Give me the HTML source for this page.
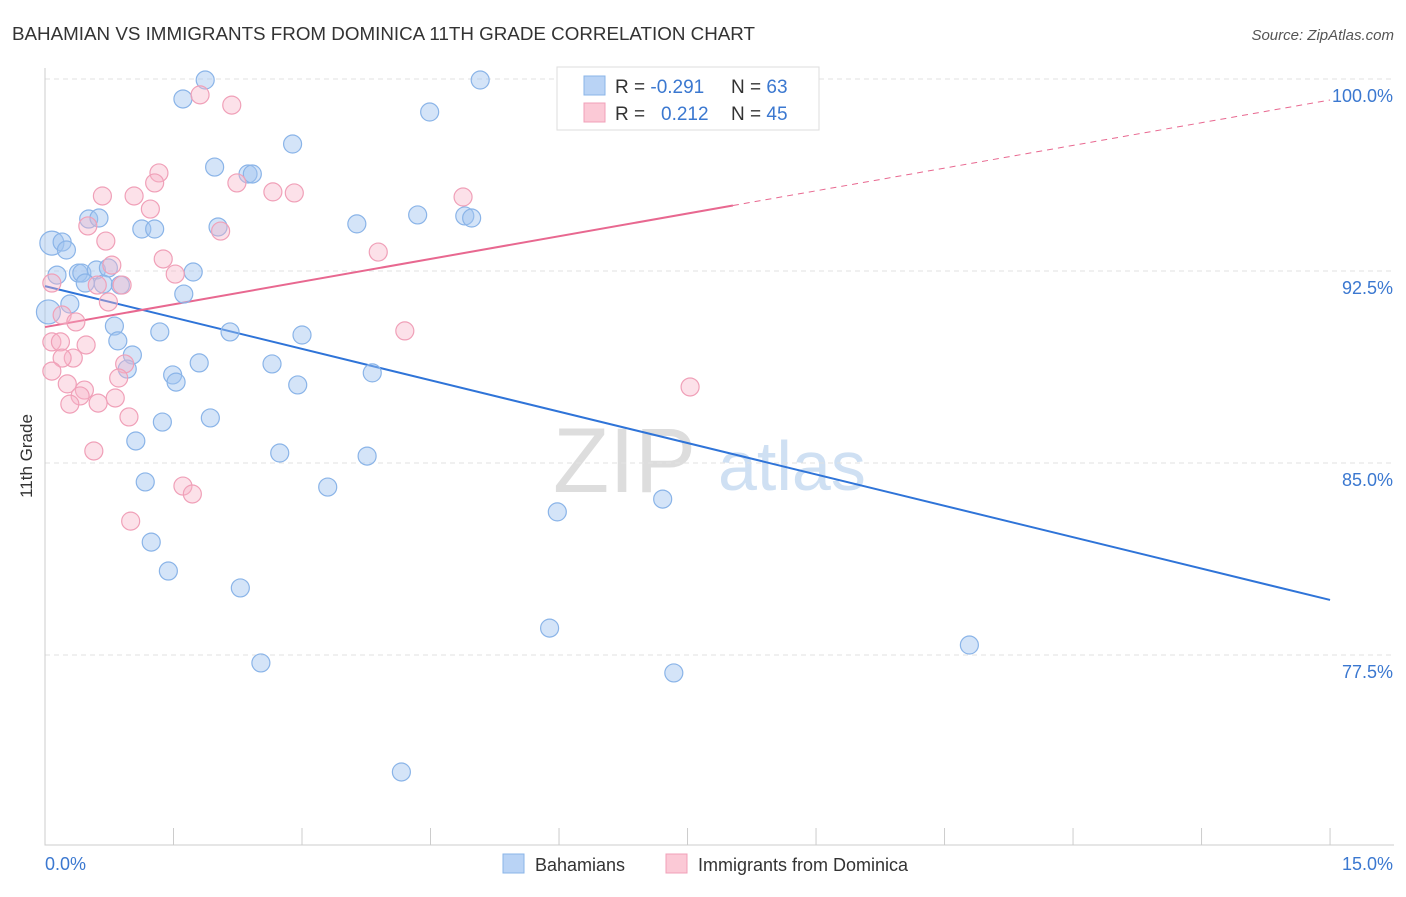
<!DOCTYPE html>
<html><head><meta charset="utf-8"><style>
body{margin:0;background:#fff;font-family:"Liberation Sans",sans-serif;}
svg text{font-family:"Liberation Sans",sans-serif;}
</style></head><body>
<svg id="chart" width="1406" height="892" viewBox="0 0 1406 892" xmlns="http://www.w3.org/2000/svg">
<text x="12" y="40" font-size="18.8" fill="#333">BAHAMIAN VS IMMIGRANTS FROM DOMINICA 11TH GRADE CORRELATION CHART</text>
<text x="1394" y="40" font-size="15" fill="#555" font-style="italic" text-anchor="end">Source: ZipAtlas.com</text>
<text x="32" y="456" font-size="17" fill="#333" text-anchor="middle" transform="rotate(-90 32 456)">11th Grade</text>
<g>
<text x="553" y="492" font-size="92" fill="#ddd" font-family="Liberation Serif,serif">ZIP</text>
<text x="718" y="490" font-size="70" fill="#cfe0f3">atlas</text>
</g>
<g id="grid"></g><g id="axes"></g><g id="trend"></g><g id="pts"></g>
<g>
<rect x="557" y="67" width="262" height="63" fill="#fff" stroke="#ddd"/>
<rect x="584" y="76" width="21" height="19" fill="#b9d3f5" stroke="#8ab4e8"/>
<rect x="584" y="103" width="21" height="19" fill="#fbc9d6" stroke="#f0a0b8"/>
<text x="615" y="93" font-size="19" fill="#333">R = <tspan fill="#3b78d0">-0.291</tspan><tspan x="731">N = </tspan><tspan fill="#3b78d0">63</tspan></text>
<text x="615" y="120" font-size="19" fill="#333">R = <tspan x="661" fill="#3b78d0">0.212</tspan><tspan x="731">N = </tspan><tspan fill="#3b78d0">45</tspan></text>
</g>
<g>
<rect x="503" y="854" width="21" height="19" fill="#b9d3f5" stroke="#8ab4e8"/>
<text x="535" y="871" font-size="18" fill="#333">Bahamians</text>
<rect x="666" y="854" width="21" height="19" fill="#fbc9d6" stroke="#f0a0b8"/>
<text x="698" y="871" font-size="18" fill="#333">Immigrants from Dominica</text>
</g>
</svg>
<script>
const yTicks=[100,92.5,85,77.5];
const yTickLabels=["100.0%","92.5%","85.0%","77.5%"];
const xTicks=[0,1.5,3,4.5,6,7.5,9,10.5,12,13.5,15];
const xEndLabels=["0.0%","15.0%"];
const blueX=[1.87,5.08,1.61,4.49,2.89,1.98,2.37,2.42,0.51,0.63,4.35,4.90,4.98,3.64,1.13,1.28,2.02,0.08,0.20,0.25,0.14,0.39,0.43,0.60,0.74,1.73,0.47,0.68,0.88,0.29,1.62,0.04,0.81,1.34,2.16,3.00,0.85,1.02,0.96,1.80,2.65,1.49,1.53,2.95,3.82,1.93,1.37,1.06,2.74,3.76,1.17,3.30,5.98,7.21,1.24,1.44,2.28,5.89,10.79,2.52,7.34,4.16,7.47];
const blueY=[99.96,99.96,99.22,98.71,97.46,96.56,96.29,96.29,94.53,94.57,94.69,94.65,94.57,94.34,94.14,94.14,94.22,93.59,93.63,93.32,92.34,92.42,92.42,92.54,92.62,92.46,92.03,91.99,91.95,91.21,91.60,90.90,90.35,90.12,90.12,90.00,89.77,89.22,88.67,88.91,88.87,88.44,88.16,88.05,88.52,86.76,86.60,85.86,85.39,85.27,84.26,84.06,83.09,83.59,81.91,80.78,80.12,78.55,77.89,77.19,76.80,72.93,99.96];
const pinkX=[1.81,2.18,1.33,1.28,2.24,0.67,1.04,2.66,2.91,4.88,1.23,0.50,2.05,0.71,3.89,1.38,0.78,1.52,0.08,0.61,0.90,0.74,0.20,0.36,4.20,0.08,0.18,0.48,0.33,0.20,0.93,0.86,0.08,0.26,0.46,0.41,0.82,0.29,0.62,0.98,0.57,1.61,1.72,1.00,7.53];
const pinkY=[99.38,98.98,96.33,95.94,95.94,95.43,95.43,95.59,95.55,95.39,94.92,94.26,94.06,93.67,93.24,92.97,92.73,92.38,92.03,91.95,91.95,91.29,90.78,90.51,90.16,89.73,89.73,89.61,89.10,89.10,88.87,88.32,88.59,88.09,87.85,87.62,87.54,87.30,87.34,86.80,85.47,84.10,83.79,82.73,87.97];
const blueTrend=[91.91,79.65];
const pinkTrend=[90.31,99.18];
const pinkSolidEnd=8.03;

const NS="http://www.w3.org/2000/svg";
const X=v=>45+v*85.67, Y=v=>79+(100-v)*25.6;
function mk(tag,parent,attrs){const e=document.createElementNS(NS,tag);for(const k in attrs)e.setAttribute(k,attrs[k]);document.getElementById(parent).appendChild(e);return e;}
yTicks.forEach((t,i)=>{
 const l=mk('line','grid',{x1:45,x2:1394,y1:Y(t),y2:Y(t),stroke:'#e2e2e2','stroke-dasharray':'5,4'});
 
 
 const tx=mk('text','grid',{x:1393,y:Y(t)+23,'font-size':18,fill:'#3b78d0','text-anchor':'end'});
 tx.textContent=yTickLabels[i];
 
 
});
const ax=mk('path','axes',{d:'M45 68V845H1394',stroke:'#ccc',fill:'none'});


xTicks.forEach(t=>{
 const l=mk('line','axes',{x1:X(t),x2:X(t),y1:828,y2:845,stroke:'#ccc'});
 
 
});
const xl0=mk('text','axes',{x:45,y:870,'font-size':18,fill:'#3b78d0'});xl0.textContent=xEndLabels[0];


const xl1=mk('text','axes',{x:1393,y:870,'font-size':18,fill:'#3b78d0','text-anchor':'end'});xl1.textContent=xEndLabels[1];


function dot(x,y,fill,stroke,name,r){
 const c=mk('circle','pts',{cx:X(x),cy:Y(y),r:r,fill:fill,stroke:stroke,'stroke-width':1.2});
 
 
}
blueX.forEach((x,i)=>dot(x,blueY[i],'rgba(160,196,240,0.45)','#8ab4e8','bahamian-point',(i===17||i===31)?12:9));
pinkX.forEach((x,i)=>dot(x,pinkY[i],'rgba(248,180,200,0.4)','#f0a0b8','dominica-point',9));
const bt=mk('line','trend',{x1:X(0),y1:Y(blueTrend[0]),x2:X(15),y2:Y(blueTrend[1]),stroke:'#2f74d8','stroke-width':2});


const pAt=x=>pinkTrend[0]+(pinkTrend[1]-pinkTrend[0])*x/15;
const ps=mk('line','trend',{x1:X(0),y1:Y(pinkTrend[0]),x2:X(pinkSolidEnd),y2:Y(pAt(pinkSolidEnd)),stroke:'#e86890','stroke-width':2});


const pd=mk('line','trend',{x1:X(pinkSolidEnd),y1:Y(pAt(pinkSolidEnd)),x2:X(15),y2:Y(pinkTrend[1]),stroke:'#e86890','stroke-width':1,'stroke-dasharray':'6,5'});


</script>
</body></html>
